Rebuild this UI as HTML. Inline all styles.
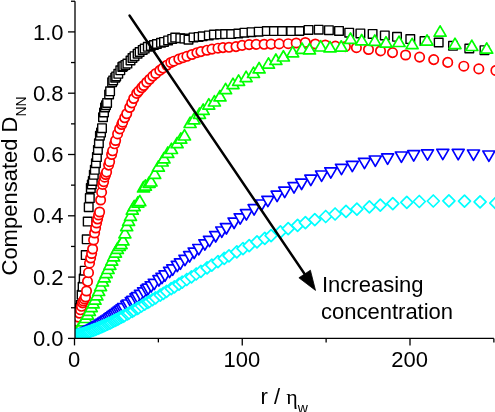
<!DOCTYPE html>
<html><head><meta charset="utf-8"><style>html,body{margin:0;padding:0;background:#fff;width:495px;height:412px;overflow:hidden}</style></head>
<body>
<svg width="495" height="412" viewBox="0 0 495 412" style="position:absolute;left:0;top:0;will-change:transform">
<defs><clipPath id="pc"><rect x="75" y="0" width="420" height="338.4"/></clipPath></defs>
<g clip-path="url(#pc)">
<g fill="#fff" stroke="#000000" stroke-width="1.4" stroke-linejoin="round"><path d="M71.2 325.6h8.6v8.6h-8.6z"/><path d="M72.2 320.5h8.6v8.6h-8.6z"/><path d="M73.3 314.0h8.6v8.6h-8.6z"/><path d="M74.3 307.9h8.6v8.6h-8.6z"/><path d="M75.3 303.8h8.6v8.6h-8.6z"/><path d="M76.3 300.7h8.6v8.6h-8.6z"/><path d="M77.3 290.5h8.6v8.6h-8.6z"/><path d="M78.3 282.4h8.6v8.6h-8.6z"/><path d="M79.4 274.3h8.6v8.6h-8.6z"/><path d="M80.4 266.4h8.6v8.6h-8.6z"/><path d="M81.4 250.8h8.6v8.6h-8.6z"/><path d="M82.4 235.0h8.6v8.6h-8.6z"/><path d="M83.4 217.3h8.6v8.6h-8.6z"/><path d="M84.4 202.9h8.6v8.6h-8.6z"/><path d="M85.5 193.8h8.6v8.6h-8.6z"/><path d="M86.5 183.8h8.6v8.6h-8.6z"/><path d="M87.5 180.2h8.6v8.6h-8.6z"/><path d="M88.5 176.6h8.6v8.6h-8.6z"/><path d="M89.5 170.5h8.6v8.6h-8.6z"/><path d="M90.5 165.5h8.6v8.6h-8.6z"/><path d="M91.6 158.9h8.6v8.6h-8.6z"/><path d="M92.6 152.8h8.6v8.6h-8.6z"/><path d="M93.6 145.7h8.6v8.6h-8.6z"/><path d="M94.6 138.9h8.6v8.6h-8.6z"/><path d="M95.6 131.4h8.6v8.6h-8.6z"/><path d="M96.7 128.3h8.6v8.6h-8.6z"/><path d="M97.7 123.9h8.6v8.6h-8.6z"/><path d="M98.7 112.9h8.6v8.6h-8.6z"/><path d="M99.7 108.2h8.6v8.6h-8.6z"/><path d="M100.7 103.1h8.6v8.6h-8.6z"/><path d="M101.7 100.9h8.6v8.6h-8.6z"/><path d="M102.8 98.6h8.6v8.6h-8.6z"/><path d="M104.8 90.2h8.6v8.6h-8.6z"/><path d="M105.8 87.0h8.6v8.6h-8.6z"/><path d="M107.8 78.0h8.6v8.6h-8.6z"/><path d="M108.9 76.1h8.6v8.6h-8.6z"/><path d="M110.9 73.4h8.6v8.6h-8.6z"/><path d="M111.9 72.1h8.6v8.6h-8.6z"/><path d="M114.0 69.5h8.6v8.6h-8.6z"/><path d="M116.0 66.0h8.6v8.6h-8.6z"/><path d="M118.0 62.6h8.6v8.6h-8.6z"/><path d="M119.0 62.0h8.6v8.6h-8.6z"/><path d="M121.1 60.6h8.6v8.6h-8.6z"/><path d="M123.1 59.3h8.6v8.6h-8.6z"/><path d="M126.2 56.2h8.6v8.6h-8.6z"/><path d="M128.2 53.7h8.6v8.6h-8.6z"/><path d="M130.2 51.9h8.6v8.6h-8.6z"/><path d="M133.3 49.4h8.6v8.6h-8.6z"/><path d="M135.3 47.7h8.6v8.6h-8.6z"/><path d="M138.4 45.6h8.6v8.6h-8.6z"/><path d="M140.4 44.3h8.6v8.6h-8.6z"/><path d="M143.5 42.5h8.6v8.6h-8.6z"/><path d="M146.5 41.6h8.6v8.6h-8.6z"/><path d="M149.6 40.7h8.6v8.6h-8.6z"/><path d="M152.6 39.7h8.6v8.6h-8.6z"/><path d="M156.7 38.5h8.6v8.6h-8.6z"/><path d="M159.7 37.6h8.6v8.6h-8.6z"/><path d="M163.8 36.1h8.6v8.6h-8.6z"/><path d="M167.9 34.6h8.6v8.6h-8.6z"/><path d="M170.9 33.3h8.6v8.6h-8.6z"/><path d="M176.0 33.9h8.6v8.6h-8.6z"/><path d="M180.1 34.3h8.6v8.6h-8.6z"/><path d="M184.2 35.4h8.6v8.6h-8.6z"/><path d="M189.2 33.1h8.6v8.6h-8.6z"/><path d="M194.3 32.6h8.6v8.6h-8.6z"/><path d="M198.4 32.0h8.6v8.6h-8.6z"/><path d="M204.5 31.1h8.6v8.6h-8.6z"/><path d="M209.6 30.3h8.6v8.6h-8.6z"/><path d="M215.7 30.0h8.6v8.6h-8.6z"/><path d="M220.8 29.8h8.6v8.6h-8.6z"/><path d="M226.9 29.8h8.6v8.6h-8.6z"/><path d="M234.0 29.2h8.6v8.6h-8.6z"/><path d="M240.1 28.4h8.6v8.6h-8.6z"/><path d="M247.2 27.9h8.6v8.6h-8.6z"/><path d="M254.4 27.4h8.6v8.6h-8.6z"/><path d="M262.5 26.8h8.6v8.6h-8.6z"/><path d="M269.6 26.8h8.6v8.6h-8.6z"/><path d="M277.8 26.8h8.6v8.6h-8.6z"/><path d="M286.9 26.8h8.6v8.6h-8.6z"/><path d="M295.1 26.7h8.6v8.6h-8.6z"/><path d="M304.2 25.6h8.6v8.6h-8.6z"/><path d="M314.4 25.4h8.6v8.6h-8.6z"/><path d="M324.6 25.9h8.6v8.6h-8.6z"/><path d="M334.7 26.6h8.6v8.6h-8.6z"/><path d="M344.9 28.4h8.6v8.6h-8.6z"/><path d="M356.1 29.1h8.6v8.6h-8.6z"/><path d="M368.3 29.6h8.6v8.6h-8.6z"/><path d="M380.5 31.1h8.6v8.6h-8.6z"/><path d="M392.7 32.5h8.6v8.6h-8.6z"/><path d="M406.0 34.8h8.6v8.6h-8.6z"/><path d="M420.2 36.8h8.6v8.6h-8.6z"/><path d="M434.4 38.2h8.6v8.6h-8.6z"/><path d="M448.7 41.5h8.6v8.6h-8.6z"/><path d="M465.0 44.2h8.6v8.6h-8.6z"/><path d="M480.2 45.9h8.6v8.6h-8.6z"/></g>
<g fill="#fff" stroke="#ff0000" stroke-width="1.7" stroke-linejoin="round"><path d="M70.8 330.4a4.7 4.7 0 1 0 9.4 0a4.7 4.7 0 1 0 -9.4 0z"/><path d="M71.8 326.0a4.7 4.7 0 1 0 9.4 0a4.7 4.7 0 1 0 -9.4 0z"/><path d="M72.8 321.6a4.7 4.7 0 1 0 9.4 0a4.7 4.7 0 1 0 -9.4 0z"/><path d="M73.8 317.1a4.7 4.7 0 1 0 9.4 0a4.7 4.7 0 1 0 -9.4 0z"/><path d="M74.8 313.2a4.7 4.7 0 1 0 9.4 0a4.7 4.7 0 1 0 -9.4 0z"/><path d="M75.8 309.8a4.7 4.7 0 1 0 9.4 0a4.7 4.7 0 1 0 -9.4 0z"/><path d="M76.8 306.3a4.7 4.7 0 1 0 9.4 0a4.7 4.7 0 1 0 -9.4 0z"/><path d="M77.8 302.9a4.7 4.7 0 1 0 9.4 0a4.7 4.7 0 1 0 -9.4 0z"/><path d="M78.8 301.0a4.7 4.7 0 1 0 9.4 0a4.7 4.7 0 1 0 -9.4 0z"/><path d="M79.8 299.0a4.7 4.7 0 1 0 9.4 0a4.7 4.7 0 1 0 -9.4 0z"/><path d="M80.8 297.0a4.7 4.7 0 1 0 9.4 0a4.7 4.7 0 1 0 -9.4 0z"/><path d="M81.8 291.0a4.7 4.7 0 1 0 9.4 0a4.7 4.7 0 1 0 -9.4 0z"/><path d="M82.8 281.4a4.7 4.7 0 1 0 9.4 0a4.7 4.7 0 1 0 -9.4 0z"/><path d="M83.8 272.7a4.7 4.7 0 1 0 9.4 0a4.7 4.7 0 1 0 -9.4 0z"/><path d="M84.8 263.2a4.7 4.7 0 1 0 9.4 0a4.7 4.7 0 1 0 -9.4 0z"/><path d="M85.9 258.0a4.7 4.7 0 1 0 9.4 0a4.7 4.7 0 1 0 -9.4 0z"/><path d="M86.9 253.5a4.7 4.7 0 1 0 9.4 0a4.7 4.7 0 1 0 -9.4 0z"/><path d="M87.9 249.0a4.7 4.7 0 1 0 9.4 0a4.7 4.7 0 1 0 -9.4 0z"/><path d="M88.9 240.0a4.7 4.7 0 1 0 9.4 0a4.7 4.7 0 1 0 -9.4 0z"/><path d="M89.9 233.0a4.7 4.7 0 1 0 9.4 0a4.7 4.7 0 1 0 -9.4 0z"/><path d="M90.9 228.0a4.7 4.7 0 1 0 9.4 0a4.7 4.7 0 1 0 -9.4 0z"/><path d="M91.9 223.0a4.7 4.7 0 1 0 9.4 0a4.7 4.7 0 1 0 -9.4 0z"/><path d="M92.9 219.0a4.7 4.7 0 1 0 9.4 0a4.7 4.7 0 1 0 -9.4 0z"/><path d="M93.9 215.0a4.7 4.7 0 1 0 9.4 0a4.7 4.7 0 1 0 -9.4 0z"/><path d="M94.9 212.0a4.7 4.7 0 1 0 9.4 0a4.7 4.7 0 1 0 -9.4 0z"/><path d="M95.9 200.0a4.7 4.7 0 1 0 9.4 0a4.7 4.7 0 1 0 -9.4 0z"/><path d="M96.9 192.3a4.7 4.7 0 1 0 9.4 0a4.7 4.7 0 1 0 -9.4 0z"/><path d="M97.9 184.4a4.7 4.7 0 1 0 9.4 0a4.7 4.7 0 1 0 -9.4 0z"/><path d="M98.9 181.7a4.7 4.7 0 1 0 9.4 0a4.7 4.7 0 1 0 -9.4 0z"/><path d="M99.9 177.2a4.7 4.7 0 1 0 9.4 0a4.7 4.7 0 1 0 -9.4 0z"/><path d="M100.9 174.5a4.7 4.7 0 1 0 9.4 0a4.7 4.7 0 1 0 -9.4 0z"/><path d="M101.9 172.1a4.7 4.7 0 1 0 9.4 0a4.7 4.7 0 1 0 -9.4 0z"/><path d="M103.9 165.1a4.7 4.7 0 1 0 9.4 0a4.7 4.7 0 1 0 -9.4 0z"/><path d="M104.9 161.7a4.7 4.7 0 1 0 9.4 0a4.7 4.7 0 1 0 -9.4 0z"/><path d="M106.9 154.5a4.7 4.7 0 1 0 9.4 0a4.7 4.7 0 1 0 -9.4 0z"/><path d="M107.9 150.8a4.7 4.7 0 1 0 9.4 0a4.7 4.7 0 1 0 -9.4 0z"/><path d="M109.9 143.8a4.7 4.7 0 1 0 9.4 0a4.7 4.7 0 1 0 -9.4 0z"/><path d="M110.9 140.5a4.7 4.7 0 1 0 9.4 0a4.7 4.7 0 1 0 -9.4 0z"/><path d="M112.9 133.9a4.7 4.7 0 1 0 9.4 0a4.7 4.7 0 1 0 -9.4 0z"/><path d="M114.9 128.9a4.7 4.7 0 1 0 9.4 0a4.7 4.7 0 1 0 -9.4 0z"/><path d="M117.0 124.5a4.7 4.7 0 1 0 9.4 0a4.7 4.7 0 1 0 -9.4 0z"/><path d="M118.0 122.2a4.7 4.7 0 1 0 9.4 0a4.7 4.7 0 1 0 -9.4 0z"/><path d="M120.0 117.7a4.7 4.7 0 1 0 9.4 0a4.7 4.7 0 1 0 -9.4 0z"/><path d="M122.0 113.7a4.7 4.7 0 1 0 9.4 0a4.7 4.7 0 1 0 -9.4 0z"/><path d="M125.0 107.5a4.7 4.7 0 1 0 9.4 0a4.7 4.7 0 1 0 -9.4 0z"/><path d="M127.0 102.9a4.7 4.7 0 1 0 9.4 0a4.7 4.7 0 1 0 -9.4 0z"/><path d="M129.0 98.5a4.7 4.7 0 1 0 9.4 0a4.7 4.7 0 1 0 -9.4 0z"/><path d="M132.0 93.4a4.7 4.7 0 1 0 9.4 0a4.7 4.7 0 1 0 -9.4 0z"/><path d="M134.0 91.1a4.7 4.7 0 1 0 9.4 0a4.7 4.7 0 1 0 -9.4 0z"/><path d="M137.0 87.7a4.7 4.7 0 1 0 9.4 0a4.7 4.7 0 1 0 -9.4 0z"/><path d="M139.0 85.5a4.7 4.7 0 1 0 9.4 0a4.7 4.7 0 1 0 -9.4 0z"/><path d="M142.0 82.2a4.7 4.7 0 1 0 9.4 0a4.7 4.7 0 1 0 -9.4 0z"/><path d="M145.0 79.2a4.7 4.7 0 1 0 9.4 0a4.7 4.7 0 1 0 -9.4 0z"/><path d="M148.1 76.1a4.7 4.7 0 1 0 9.4 0a4.7 4.7 0 1 0 -9.4 0z"/><path d="M151.1 73.5a4.7 4.7 0 1 0 9.4 0a4.7 4.7 0 1 0 -9.4 0z"/><path d="M155.1 70.4a4.7 4.7 0 1 0 9.4 0a4.7 4.7 0 1 0 -9.4 0z"/><path d="M158.1 68.1a4.7 4.7 0 1 0 9.4 0a4.7 4.7 0 1 0 -9.4 0z"/><path d="M162.1 65.2a4.7 4.7 0 1 0 9.4 0a4.7 4.7 0 1 0 -9.4 0z"/><path d="M166.1 62.5a4.7 4.7 0 1 0 9.4 0a4.7 4.7 0 1 0 -9.4 0z"/><path d="M169.1 61.2a4.7 4.7 0 1 0 9.4 0a4.7 4.7 0 1 0 -9.4 0z"/><path d="M174.1 59.1a4.7 4.7 0 1 0 9.4 0a4.7 4.7 0 1 0 -9.4 0z"/><path d="M178.2 57.7a4.7 4.7 0 1 0 9.4 0a4.7 4.7 0 1 0 -9.4 0z"/><path d="M182.2 56.3a4.7 4.7 0 1 0 9.4 0a4.7 4.7 0 1 0 -9.4 0z"/><path d="M187.2 54.5a4.7 4.7 0 1 0 9.4 0a4.7 4.7 0 1 0 -9.4 0z"/><path d="M192.2 52.7a4.7 4.7 0 1 0 9.4 0a4.7 4.7 0 1 0 -9.4 0z"/><path d="M196.2 51.6a4.7 4.7 0 1 0 9.4 0a4.7 4.7 0 1 0 -9.4 0z"/><path d="M202.2 50.2a4.7 4.7 0 1 0 9.4 0a4.7 4.7 0 1 0 -9.4 0z"/><path d="M207.3 49.1a4.7 4.7 0 1 0 9.4 0a4.7 4.7 0 1 0 -9.4 0z"/><path d="M213.3 48.2a4.7 4.7 0 1 0 9.4 0a4.7 4.7 0 1 0 -9.4 0z"/><path d="M218.3 47.6a4.7 4.7 0 1 0 9.4 0a4.7 4.7 0 1 0 -9.4 0z"/><path d="M224.3 47.3a4.7 4.7 0 1 0 9.4 0a4.7 4.7 0 1 0 -9.4 0z"/><path d="M231.3 46.6a4.7 4.7 0 1 0 9.4 0a4.7 4.7 0 1 0 -9.4 0z"/><path d="M237.4 45.4a4.7 4.7 0 1 0 9.4 0a4.7 4.7 0 1 0 -9.4 0z"/><path d="M244.4 44.6a4.7 4.7 0 1 0 9.4 0a4.7 4.7 0 1 0 -9.4 0z"/><path d="M251.4 44.4a4.7 4.7 0 1 0 9.4 0a4.7 4.7 0 1 0 -9.4 0z"/><path d="M259.4 44.3a4.7 4.7 0 1 0 9.4 0a4.7 4.7 0 1 0 -9.4 0z"/><path d="M266.4 44.1a4.7 4.7 0 1 0 9.4 0a4.7 4.7 0 1 0 -9.4 0z"/><path d="M274.5 43.9a4.7 4.7 0 1 0 9.4 0a4.7 4.7 0 1 0 -9.4 0z"/><path d="M283.5 43.7a4.7 4.7 0 1 0 9.4 0a4.7 4.7 0 1 0 -9.4 0z"/><path d="M291.5 43.0a4.7 4.7 0 1 0 9.4 0a4.7 4.7 0 1 0 -9.4 0z"/><path d="M300.6 42.5a4.7 4.7 0 1 0 9.4 0a4.7 4.7 0 1 0 -9.4 0z"/><path d="M310.6 44.0a4.7 4.7 0 1 0 9.4 0a4.7 4.7 0 1 0 -9.4 0z"/><path d="M320.6 45.0a4.7 4.7 0 1 0 9.4 0a4.7 4.7 0 1 0 -9.4 0z"/><path d="M330.7 46.1a4.7 4.7 0 1 0 9.4 0a4.7 4.7 0 1 0 -9.4 0z"/><path d="M340.7 46.6a4.7 4.7 0 1 0 9.4 0a4.7 4.7 0 1 0 -9.4 0z"/><path d="M351.7 47.7a4.7 4.7 0 1 0 9.4 0a4.7 4.7 0 1 0 -9.4 0z"/><path d="M363.8 49.5a4.7 4.7 0 1 0 9.4 0a4.7 4.7 0 1 0 -9.4 0z"/><path d="M375.8 50.9a4.7 4.7 0 1 0 9.4 0a4.7 4.7 0 1 0 -9.4 0z"/><path d="M387.8 52.6a4.7 4.7 0 1 0 9.4 0a4.7 4.7 0 1 0 -9.4 0z"/><path d="M400.9 55.0a4.7 4.7 0 1 0 9.4 0a4.7 4.7 0 1 0 -9.4 0z"/><path d="M414.9 57.1a4.7 4.7 0 1 0 9.4 0a4.7 4.7 0 1 0 -9.4 0z"/><path d="M429.0 59.6a4.7 4.7 0 1 0 9.4 0a4.7 4.7 0 1 0 -9.4 0z"/><path d="M443.0 62.4a4.7 4.7 0 1 0 9.4 0a4.7 4.7 0 1 0 -9.4 0z"/><path d="M459.1 66.2a4.7 4.7 0 1 0 9.4 0a4.7 4.7 0 1 0 -9.4 0z"/><path d="M474.1 68.9a4.7 4.7 0 1 0 9.4 0a4.7 4.7 0 1 0 -9.4 0z"/><path d="M491.2 70.5a4.7 4.7 0 1 0 9.4 0a4.7 4.7 0 1 0 -9.4 0z"/></g>
<g fill="#fff" stroke="#00ff00" stroke-width="1.7" stroke-linejoin="round"><path d="M76.4 326.8L82.4 337.1H70.4z"/><path d="M78.2 324.0L84.2 334.4H72.2z"/><path d="M80.1 321.2L86.1 331.6H74.1z"/><path d="M82.0 318.4L88.0 328.8H76.0z"/><path d="M83.8 315.4L89.8 325.8H77.8z"/><path d="M85.7 312.1L91.7 322.5H79.7z"/><path d="M87.6 308.7L93.6 319.1H81.6z"/><path d="M89.4 305.0L95.4 315.4H83.4z"/><path d="M91.3 301.2L97.3 311.6H85.3z"/><path d="M93.2 297.5L99.2 307.9H87.2z"/><path d="M95.0 293.8L101.0 304.2H89.0z"/><path d="M96.9 289.5L102.9 299.9H90.9z"/><path d="M98.7 285.1L104.7 295.5H92.7z"/><path d="M100.6 280.2L106.6 290.6H94.6z"/><path d="M102.5 275.6L108.5 286.0H96.5z"/><path d="M104.3 271.5L110.3 281.9H98.3z"/><path d="M106.2 267.3L112.2 277.7H100.2z"/><path d="M108.1 263.1L114.1 273.5H102.1z"/><path d="M109.9 258.9L115.9 269.3H103.9z"/><path d="M111.8 254.8L117.8 265.1H105.8z"/><path d="M113.7 250.6L119.7 260.9H107.7z"/><path d="M115.5 246.7L121.5 257.1H109.5z"/><path d="M117.4 243.0L123.4 253.4H111.4z"/><path d="M119.3 240.1L125.3 250.5H113.3z"/><path d="M121.1 238.2L127.1 248.6H115.1z"/><path d="M123.0 234.5L129.0 244.9H117.0z"/><path d="M124.9 227.4L130.9 237.8H118.9z"/><path d="M126.7 220.3L132.7 230.7H120.7z"/><path d="M128.6 215.0L134.6 225.4H122.6z"/><path d="M130.5 210.0L136.5 220.4H124.5z"/><path d="M132.3 203.8L138.3 214.2H126.3z"/><path d="M134.2 200.3L140.2 210.7H128.2z"/><path d="M137.9 196.7L143.9 207.1H131.9z"/><path d="M139.8 195.3L145.8 205.7H133.8z"/><path d="M143.5 181.5L149.5 191.9H137.5z"/><path d="M145.4 179.8L151.4 190.2H139.4z"/><path d="M149.1 176.9L155.1 187.3H143.1z"/><path d="M151.0 175.6L157.0 186.0H145.0z"/><path d="M154.7 168.0L160.7 178.4H148.7z"/><path d="M158.4 160.8L164.4 171.2H152.4z"/><path d="M162.2 155.6L168.2 166.0H156.2z"/><path d="M164.0 152.5L170.0 162.9H158.0z"/><path d="M167.8 147.0L173.8 157.4H161.8z"/><path d="M171.5 143.2L177.5 153.5H165.5z"/><path d="M177.1 137.4L183.1 147.7H171.1z"/><path d="M180.8 132.8L186.8 143.2H174.8z"/><path d="M184.5 129.6L190.5 140.0H178.5z"/><path d="M190.1 117.1L196.1 127.5H184.1z"/><path d="M193.9 113.5L199.9 123.9H187.9z"/><path d="M199.5 107.9L205.5 118.3H193.5z"/><path d="M203.2 104.0L209.2 114.4H197.2z"/><path d="M208.8 98.7L214.8 109.1H202.8z"/><path d="M214.4 95.6L220.4 106.0H208.4z"/><path d="M220.0 90.5L226.0 100.9H214.0z"/><path d="M225.6 83.3L231.6 93.7H219.6z"/><path d="M233.0 78.2L239.0 88.6H227.0z"/><path d="M238.6 74.9L244.6 85.3H232.6z"/><path d="M246.1 71.2L252.1 81.6H240.1z"/><path d="M253.5 67.1L259.5 77.5H247.5z"/><path d="M259.1 62.5L265.1 72.9H253.1z"/><path d="M268.5 57.8L274.5 68.2H262.5z"/><path d="M275.9 54.0L281.9 64.4H269.9z"/><path d="M283.4 50.7L289.4 61.0H277.4z"/><path d="M292.7 46.4L298.7 56.8H286.7z"/><path d="M302.0 43.0L308.0 53.4H296.0z"/><path d="M309.5 43.5L315.5 53.9H303.5z"/><path d="M320.7 40.6L326.7 51.0H314.7z"/><path d="M330.0 41.5L336.0 51.9H324.0z"/><path d="M341.2 40.8L347.2 51.1H335.2z"/><path d="M350.5 33.0L356.5 43.4H344.5z"/><path d="M361.7 34.5L367.7 44.9H355.7z"/><path d="M374.8 34.9L380.8 45.3H368.8z"/><path d="M386.0 36.7L392.0 47.1H380.0z"/><path d="M399.0 36.1L405.0 46.5H393.0z"/><path d="M412.1 38.3L418.1 48.7H406.1z"/><path d="M427.0 34.8L433.0 45.2H421.0z"/><path d="M440.1 25.8L446.1 36.2H434.1z"/><path d="M455.0 38.2L461.0 48.6H449.0z"/><path d="M471.8 40.1L477.8 50.5H465.8z"/><path d="M486.7 42.8L492.7 53.2H480.7z"/></g>
<g fill="#fff" stroke="#0000ff" stroke-width="1.7" stroke-linejoin="round"><path d="M70.0 331.5H82.0L76.0 341.9z"/><path d="M71.6 331.1H83.6L77.6 341.5z"/><path d="M73.1 330.6H85.1L79.1 341.0z"/><path d="M74.6 330.1H86.6L80.6 340.5z"/><path d="M76.2 329.5H88.2L82.2 339.9z"/><path d="M77.7 328.9H89.7L83.7 339.3z"/><path d="M79.2 328.3H91.2L85.2 338.6z"/><path d="M80.8 327.6H92.8L86.8 338.0z"/><path d="M82.3 326.9H94.3L88.3 337.3z"/><path d="M83.8 326.1H95.8L89.8 336.5z"/><path d="M85.4 325.3H97.4L91.4 335.7z"/><path d="M86.9 324.5H98.9L92.9 334.9z"/><path d="M88.5 323.7H100.5L94.5 334.1z"/><path d="M90.0 322.8H102.0L96.0 333.2z"/><path d="M91.5 321.9H103.5L97.5 332.3z"/><path d="M93.1 321.0H105.1L99.1 331.4z"/><path d="M94.6 320.1H106.6L100.6 330.5z"/><path d="M96.1 319.1H108.1L102.1 329.5z"/><path d="M97.7 318.1H109.7L103.7 328.5z"/><path d="M99.2 317.1H111.2L105.2 327.5z"/><path d="M100.7 316.1H112.7L106.7 326.4z"/><path d="M102.3 315.0H114.3L108.3 325.4z"/><path d="M103.8 313.9H115.8L109.8 324.3z"/><path d="M105.3 312.8H117.3L111.3 323.2z"/><path d="M106.9 311.7H118.9L112.9 322.1z"/><path d="M108.4 310.6H120.4L114.4 321.0z"/><path d="M109.9 309.5H121.9L115.9 319.9z"/><path d="M111.5 308.3H123.5L117.5 318.7z"/><path d="M113.0 307.2H125.0L119.0 317.6z"/><path d="M114.5 306.0H126.5L120.5 316.4z"/><path d="M116.1 304.8H128.1L122.1 315.2z"/><path d="M117.6 303.6H129.6L123.6 314.0z"/><path d="M120.7 301.2H132.7L126.7 311.6z"/><path d="M122.2 300.0H134.2L128.2 310.4z"/><path d="M125.3 297.6H137.3L131.3 308.0z"/><path d="M126.8 296.4H138.8L132.8 306.7z"/><path d="M129.9 293.9H141.9L135.9 304.3z"/><path d="M131.4 292.7H143.4L137.4 303.1z"/><path d="M134.5 290.3H146.5L140.5 300.6z"/><path d="M137.6 287.8H149.6L143.6 298.2z"/><path d="M140.6 285.4H152.6L146.6 295.8z"/><path d="M142.2 284.2H154.2L148.2 294.6z"/><path d="M145.2 281.8H157.2L151.2 292.1z"/><path d="M148.3 279.3H160.3L154.3 289.7z"/><path d="M152.9 275.7H164.9L158.9 286.1z"/><path d="M156.0 273.3H168.0L162.0 283.7z"/><path d="M159.0 270.9H171.0L165.0 281.3z"/><path d="M163.6 267.3H175.6L169.6 277.7z"/><path d="M166.7 264.9H178.7L172.7 275.3z"/><path d="M171.3 261.3H183.3L177.3 271.7z"/><path d="M174.4 258.9H186.4L180.4 269.3z"/><path d="M179.0 255.3H191.0L185.0 265.7z"/><path d="M183.6 251.7H195.6L189.6 262.1z"/><path d="M188.2 248.1H200.2L194.2 258.5z"/><path d="M192.8 244.5H204.8L198.8 254.9z"/><path d="M198.9 239.8H210.9L204.9 250.2z"/><path d="M203.5 236.3H215.5L209.5 246.7z"/><path d="M209.7 231.6H221.7L215.7 242.0z"/><path d="M215.8 227.0H227.8L221.8 237.4z"/><path d="M220.4 223.6H232.4L226.4 234.0z"/><path d="M228.1 218.1H240.1L234.1 228.5z"/><path d="M234.2 213.8H246.2L240.2 224.2z"/><path d="M240.4 209.7H252.4L246.4 220.1z"/><path d="M248.1 204.7H260.1L254.1 215.1z"/><path d="M255.7 200.0H267.7L261.7 210.4z"/><path d="M261.9 196.3H273.9L267.9 206.7z"/><path d="M271.1 191.2H283.1L277.1 201.6z"/><path d="M278.7 187.2H290.7L284.7 197.6z"/><path d="M288.0 182.7H300.0L294.0 193.1z"/><path d="M295.6 179.1H307.6L301.6 189.5z"/><path d="M304.8 175.2H316.8L310.8 185.6z"/><path d="M315.6 171.0H327.6L321.6 181.4z"/><path d="M324.8 167.8H336.8L330.8 178.2z"/><path d="M335.5 164.3H347.5L341.5 174.7z"/><path d="M346.3 161.3H358.3L352.3 171.7z"/><path d="M358.5 158.3H370.5L364.5 168.7z"/><path d="M369.3 156.0H381.3L375.3 166.4z"/><path d="M381.6 153.9H393.6L387.6 164.3z"/><path d="M395.4 152.0H407.4L401.4 162.4z"/><path d="M407.7 150.7H419.7L413.7 161.1z"/><path d="M421.5 149.8H433.5L427.5 160.2z"/><path d="M436.8 149.3H448.8L442.8 159.7z"/><path d="M452.2 149.4H464.2L458.2 159.8z"/><path d="M467.5 150.0H479.5L473.5 160.4z"/><path d="M482.9 151.0H494.9L488.9 161.4z"/></g>
<g fill="#fff" stroke="#00ffff" stroke-width="1.7" stroke-linejoin="round"><path d="M76.1 329.4L82.1 335.4L76.1 341.4L70.1 335.4z"/><path d="M77.6 329.0L83.6 335.0L77.6 341.0L71.6 335.0z"/><path d="M79.2 328.6L85.2 334.6L79.2 340.6L73.2 334.6z"/><path d="M80.7 328.2L86.7 334.2L80.7 340.2L74.7 334.2z"/><path d="M82.3 327.8L88.3 333.8L82.3 339.8L76.3 333.8z"/><path d="M83.9 327.3L89.9 333.3L83.9 339.3L77.9 333.3z"/><path d="M85.4 326.8L91.4 332.8L85.4 338.8L79.4 332.8z"/><path d="M87.0 326.3L93.0 332.3L87.0 338.3L81.0 332.3z"/><path d="M88.5 325.8L94.5 331.8L88.5 337.8L82.5 331.8z"/><path d="M90.1 325.3L96.1 331.3L90.1 337.3L84.1 331.3z"/><path d="M91.7 324.7L97.7 330.7L91.7 336.7L85.7 330.7z"/><path d="M93.2 324.2L99.2 330.2L93.2 336.2L87.2 330.2z"/><path d="M94.8 323.6L100.8 329.6L94.8 335.6L88.8 329.6z"/><path d="M96.3 323.0L102.3 329.0L96.3 335.0L90.3 329.0z"/><path d="M97.9 322.3L103.9 328.3L97.9 334.3L91.9 328.3z"/><path d="M99.5 321.7L105.5 327.7L99.5 333.7L93.5 327.7z"/><path d="M101.0 321.0L107.0 327.0L101.0 333.0L95.0 327.0z"/><path d="M102.6 320.3L108.6 326.3L102.6 332.3L96.6 326.3z"/><path d="M104.1 319.7L110.1 325.7L104.1 331.7L98.1 325.7z"/><path d="M105.7 319.0L111.7 325.0L105.7 331.0L99.7 325.0z"/><path d="M107.3 318.2L113.3 324.2L107.3 330.2L101.3 324.2z"/><path d="M108.8 317.5L114.8 323.5L108.8 329.5L102.8 323.5z"/><path d="M110.4 316.8L116.4 322.8L110.4 328.8L104.4 322.8z"/><path d="M111.9 316.0L117.9 322.0L111.9 328.0L105.9 322.0z"/><path d="M113.5 315.2L119.5 321.2L113.5 327.2L107.5 321.2z"/><path d="M115.1 314.4L121.1 320.4L115.1 326.4L109.1 320.4z"/><path d="M116.6 313.7L122.6 319.7L116.6 325.7L110.6 319.7z"/><path d="M118.2 312.9L124.2 318.9L118.2 324.9L112.2 318.9z"/><path d="M119.7 312.0L125.7 318.0L119.7 324.0L113.7 318.0z"/><path d="M121.3 311.2L127.3 317.2L121.3 323.2L115.3 317.2z"/><path d="M122.9 310.4L128.9 316.4L122.9 322.4L116.9 316.4z"/><path d="M124.4 309.6L130.4 315.6L124.4 321.6L118.4 315.6z"/><path d="M127.5 307.9L133.5 313.9L127.5 319.9L121.5 313.9z"/><path d="M129.1 307.0L135.1 313.0L129.1 319.0L123.1 313.0z"/><path d="M132.2 305.3L138.2 311.3L132.2 317.3L126.2 311.3z"/><path d="M133.8 304.4L139.8 310.4L133.8 316.4L127.8 310.4z"/><path d="M136.9 302.7L142.9 308.7L136.9 314.7L130.9 308.7z"/><path d="M138.5 301.8L144.5 307.8L138.5 313.8L132.5 307.8z"/><path d="M141.6 300.0L147.6 306.0L141.6 312.0L135.6 306.0z"/><path d="M144.7 298.2L150.7 304.2L144.7 310.2L138.7 304.2z"/><path d="M147.8 296.4L153.8 302.4L147.8 308.4L141.8 302.4z"/><path d="M149.4 295.5L155.4 301.5L149.4 307.5L143.4 301.5z"/><path d="M152.5 293.7L158.5 299.7L152.5 305.7L146.5 299.7z"/><path d="M155.6 291.9L161.6 297.9L155.6 303.9L149.6 297.9z"/><path d="M160.3 289.1L166.3 295.1L160.3 301.1L154.3 295.1z"/><path d="M163.4 287.3L169.4 293.3L163.4 299.3L157.4 293.3z"/><path d="M166.6 285.4L172.6 291.4L166.6 297.4L160.6 291.4z"/><path d="M171.2 282.7L177.2 288.7L171.2 294.7L165.2 288.7z"/><path d="M174.4 280.8L180.4 286.8L174.4 292.8L168.4 286.8z"/><path d="M179.0 278.1L185.0 284.1L179.0 290.1L173.0 284.1z"/><path d="M182.2 276.2L188.2 282.2L182.2 288.2L176.2 282.2z"/><path d="M186.8 273.5L192.8 279.5L186.8 285.5L180.8 279.5z"/><path d="M191.5 270.8L197.5 276.8L191.5 282.8L185.5 276.8z"/><path d="M196.2 268.0L202.2 274.0L196.2 280.0L190.2 274.0z"/><path d="M200.9 265.3L206.9 271.3L200.9 277.3L194.9 271.3z"/><path d="M207.1 261.8L213.1 267.8L207.1 273.8L201.1 267.8z"/><path d="M211.8 259.2L217.8 265.2L211.8 271.2L205.8 265.2z"/><path d="M218.0 255.7L224.0 261.7L218.0 267.7L212.0 261.7z"/><path d="M224.3 252.3L230.3 258.3L224.3 264.3L218.3 258.3z"/><path d="M229.0 249.8L235.0 255.8L229.0 261.8L223.0 255.8z"/><path d="M236.8 245.8L242.8 251.8L236.8 257.8L230.8 251.8z"/><path d="M243.0 242.7L249.0 248.7L243.0 254.7L237.0 248.7z"/><path d="M249.2 239.6L255.2 245.6L249.2 251.6L243.2 245.6z"/><path d="M257.0 235.9L263.0 241.9L257.0 247.9L251.0 241.9z"/><path d="M264.8 232.4L270.8 238.4L264.8 244.4L258.8 238.4z"/><path d="M271.1 229.6L277.1 235.6L271.1 241.6L265.1 235.6z"/><path d="M280.4 225.8L286.4 231.8L280.4 237.8L274.4 231.8z"/><path d="M288.2 222.7L294.2 228.7L288.2 234.7L282.2 228.7z"/><path d="M297.6 219.3L303.6 225.3L297.6 231.3L291.6 225.3z"/><path d="M305.4 216.6L311.4 222.6L305.4 228.6L299.4 222.6z"/><path d="M314.8 213.6L320.8 219.6L314.8 225.6L308.8 219.6z"/><path d="M325.7 210.5L331.7 216.5L325.7 222.5L319.7 216.5z"/><path d="M335.1 208.0L341.1 214.0L335.1 220.0L329.1 214.0z"/><path d="M346.0 205.4L352.0 211.4L346.0 217.4L340.0 211.4z"/><path d="M356.9 203.1L362.9 209.1L356.9 215.1L350.9 209.1z"/><path d="M369.4 200.9L375.4 206.9L369.4 212.9L363.4 206.9z"/><path d="M380.3 199.2L386.3 205.2L380.3 211.2L374.3 205.2z"/><path d="M392.8 197.7L398.8 203.7L392.8 209.7L386.8 203.7z"/><path d="M406.8 196.4L412.8 202.4L406.8 208.4L400.8 202.4z"/><path d="M419.3 195.5L425.3 201.5L419.3 207.5L413.3 201.5z"/><path d="M433.3 195.0L439.3 201.0L433.3 207.0L427.3 201.0z"/><path d="M448.9 194.8L454.9 200.8L448.9 206.8L442.9 200.8z"/><path d="M464.5 195.2L470.5 201.2L464.5 207.2L458.5 201.2z"/><path d="M480.1 195.9L486.1 201.9L480.1 207.9L474.1 201.9z"/><path d="M495.8 197.1L501.8 203.1L495.8 209.1L489.8 203.1z"/></g>

</g>
<path d="M75.00 1.25 L75.00 338.40 L493.88 338.40" fill="none" stroke="#000" stroke-width="1.3"/><line x1="68.00" y1="338.40" x2="75.00" y2="338.40" stroke="#000" stroke-width="1.3"/><line x1="71.00" y1="307.75" x2="75.00" y2="307.75" stroke="#000" stroke-width="1.3"/><line x1="68.00" y1="277.10" x2="75.00" y2="277.10" stroke="#000" stroke-width="1.3"/><line x1="71.00" y1="246.45" x2="75.00" y2="246.45" stroke="#000" stroke-width="1.3"/><line x1="68.00" y1="215.80" x2="75.00" y2="215.80" stroke="#000" stroke-width="1.3"/><line x1="71.00" y1="185.15" x2="75.00" y2="185.15" stroke="#000" stroke-width="1.3"/><line x1="68.00" y1="154.50" x2="75.00" y2="154.50" stroke="#000" stroke-width="1.3"/><line x1="71.00" y1="123.85" x2="75.00" y2="123.85" stroke="#000" stroke-width="1.3"/><line x1="68.00" y1="93.20" x2="75.00" y2="93.20" stroke="#000" stroke-width="1.3"/><line x1="71.00" y1="62.55" x2="75.00" y2="62.55" stroke="#000" stroke-width="1.3"/><line x1="68.00" y1="31.90" x2="75.00" y2="31.90" stroke="#000" stroke-width="1.3"/><line x1="71.00" y1="1.25" x2="75.00" y2="1.25" stroke="#000" stroke-width="1.3"/><line x1="74.50" y1="338.40" x2="74.50" y2="345.40" stroke="#000" stroke-width="1.3"/><line x1="158.38" y1="338.40" x2="158.38" y2="342.40" stroke="#000" stroke-width="1.3"/><line x1="242.25" y1="338.40" x2="242.25" y2="345.40" stroke="#000" stroke-width="1.3"/><line x1="326.12" y1="338.40" x2="326.12" y2="342.40" stroke="#000" stroke-width="1.3"/><line x1="410.00" y1="338.40" x2="410.00" y2="345.40" stroke="#000" stroke-width="1.3"/><line x1="493.88" y1="338.40" x2="493.88" y2="342.40" stroke="#000" stroke-width="1.3"/><text x="63.5" y="346.00" text-anchor="end" font-size="22" style="font-family:'Liberation Sans',sans-serif">0.0</text><text x="63.5" y="284.70" text-anchor="end" font-size="22" style="font-family:'Liberation Sans',sans-serif">0.2</text><text x="63.5" y="223.40" text-anchor="end" font-size="22" style="font-family:'Liberation Sans',sans-serif">0.4</text><text x="63.5" y="162.10" text-anchor="end" font-size="22" style="font-family:'Liberation Sans',sans-serif">0.6</text><text x="63.5" y="100.80" text-anchor="end" font-size="22" style="font-family:'Liberation Sans',sans-serif">0.8</text><text x="63.5" y="39.50" text-anchor="end" font-size="22" style="font-family:'Liberation Sans',sans-serif">1.0</text><text x="74.10" y="367.00" text-anchor="middle" font-size="22" style="font-family:'Liberation Sans',sans-serif">0</text><text x="241.85" y="367.00" text-anchor="middle" font-size="22" style="font-family:'Liberation Sans',sans-serif">100</text><text x="409.60" y="367.00" text-anchor="middle" font-size="22" style="font-family:'Liberation Sans',sans-serif">200</text>
<line x1="129.5" y1="15.5" x2="306" y2="276" stroke="#000" stroke-width="2.4" stroke-linecap="round"/>
<path d="M315.5 290.4 L298.9 277.8 L310.4 270.2 Z" fill="#000" stroke="#000" stroke-width="0.8" stroke-linejoin="round"/>
<text x="322" y="292" font-size="22" style="font-family:'Liberation Sans',sans-serif">Increasing</text>
<text x="321" y="319" font-size="22" style="font-family:'Liberation Sans',sans-serif">concentration</text>
<g transform="translate(17,275.5) rotate(-90)">
<text x="0" y="0" font-size="22" style="font-family:'Liberation Sans',sans-serif">Compensated D<tspan font-size="14" dy="9">NN</tspan></text>
</g>
<text x="260.5" y="404" font-size="22" style="font-family:'Liberation Sans',sans-serif">r / <tspan style="font-family:'Liberation Serif',serif">&#951;</tspan><tspan font-size="14" dy="8.5">w</tspan></text>
</svg>
</body></html>
